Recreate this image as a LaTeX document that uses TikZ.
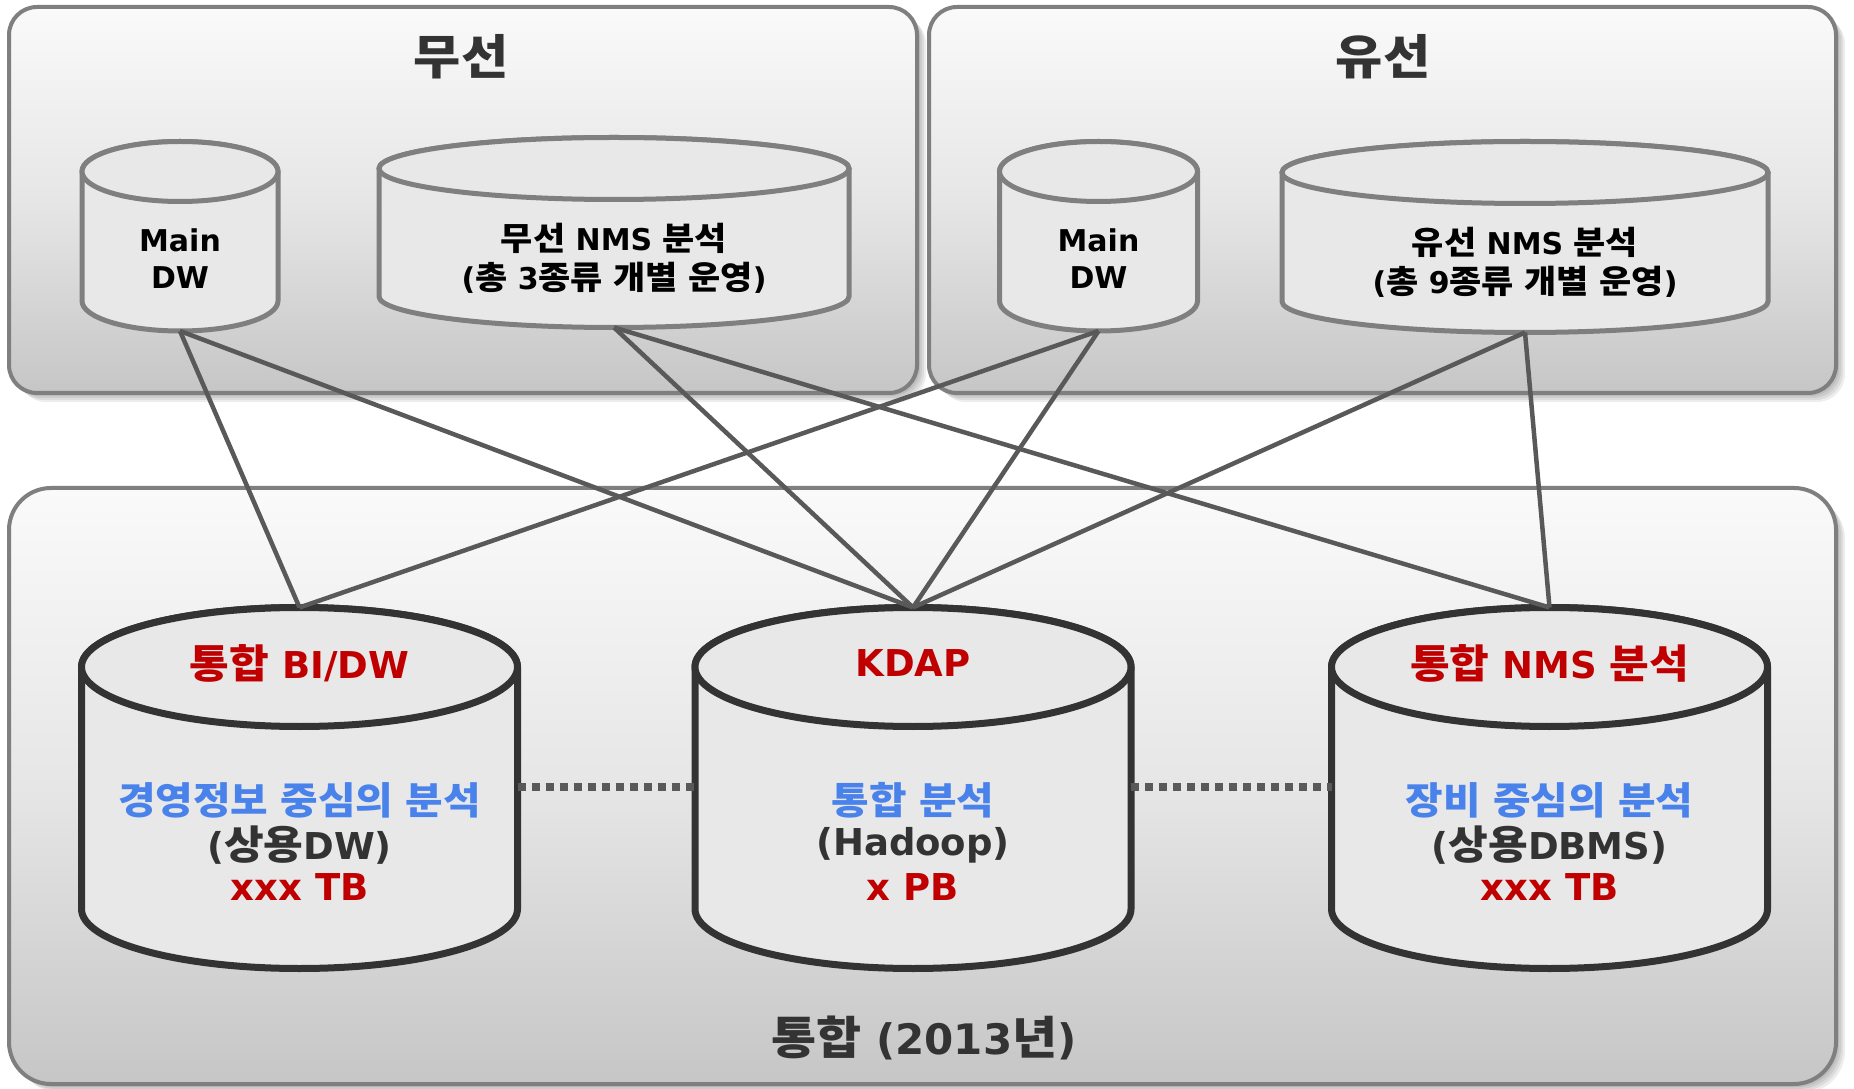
\documentclass[tikz,border=0pt]{standalone}
\usepackage{fontspec}
\setmainfont{DejaVu Sans}
\newfontfamily\kr{Noto Sans CJK KR}[Scale=1.08,FakeStretch=1.08]
\newcommand{\K}[1]{{\kr #1}}
\definecolor{panelborder}{HTML}{7F7F7F}
\definecolor{cylfill}{HTML}{E8E8E8}
\definecolor{bigborder}{HTML}{333333}
\definecolor{linec}{HTML}{595959}
\definecolor{redt}{HTML}{C00000}
\definecolor{bluet}{HTML}{4A82EB}
\definecolor{grayt}{HTML}{333333}
\definecolor{ptop}{HTML}{FAFAFA}
\definecolor{pmid}{HTML}{E6E6E6}
\definecolor{pbot}{HTML}{C6C6C6}
\newcommand{\dbcyl}[7]{%
  \draw[#7] (#2-#5,#3) -- (#2-#5,#4)
    arc[start angle=180,end angle=360,x radius=#5pt,y radius=#6pt]
    -- (#2+#5,#3)
    arc[start angle=0,end angle=180,x radius=#5pt,y radius=#6pt] -- cycle;
  \draw[#7] (#2,#3) ellipse[x radius=#5pt,y radius=#6pt];
  \coordinate (#1-t) at (#2,#3+#6);
  \coordinate (#1-b) at (#2,#4-#6);
  \coordinate (#1-l) at (#2-#5,301);
  \coordinate (#1-r) at (#2+#5,301);
}
\tikzset{
  panel/.style={draw=panelborder, line width=4pt, top color=ptop, bottom color=pbot, middle color=pmid},
  pshadow/.style={fill=black, opacity=0.07},
  smallcyl/.style={draw=panelborder, line width=5pt, fill=cylfill},
  bigcyl/.style={draw=bigborder, line width=7pt, fill=cylfill},
  conn/.style={draw=linec, line width=4.5pt},
  dotc/.style={draw=linec, line width=8pt, dash pattern=on 8pt off 6pt},
  smalltxt/.style={font=\fontsize{30}{36}\selectfont\bfseries, text=black, inner sep=0pt},
  bigtxt/.style={font=\fontsize{37}{44}\selectfont\bfseries, inner sep=0pt},
  bluetxt/.style={font=\fontsize{35}{42}\selectfont\bfseries, text=bluet, inner sep=0pt},
  paneltitle/.style={font=\fontsize{44}{52}\selectfont\bfseries, text=grayt, inner sep=0pt},
}
\begin{document}
\begin{tikzpicture}[x=1pt,y=1pt]
\useasboundingbox (0,0) rectangle (1854,1088);
\fill[white] (0,0) rectangle (1854,1088);
% shadows
\foreach \d in {3,5,7,9}{
  \fill[pshadow, rounded corners=28pt] (9+\d,695-\d) rectangle (917+\d,1081-\d);
  \fill[pshadow, rounded corners=28pt] (929+\d,695-\d) rectangle (1836+\d,1081-\d);
  \fill[pshadow, rounded corners=42pt] (9+\d,4-\d) rectangle (1836+\d,600-\d);
}
% panels
\path[panel, rounded corners=28pt] (9,695) rectangle (917,1081);
\path[panel, rounded corners=28pt] (929,695) rectangle (1836,1081);
\path[panel, rounded corners=42pt] (9,4) rectangle (1836,600);
\node[paneltitle] (t-wl) at (461,1031) {\K{무선}};
\node[paneltitle] (t-wd) at (1383,1031) {\K{유선}};
\node[paneltitle, font=\fontsize{42}{50}\selectfont\bfseries] (t-int) at (924,50) {\K{통합} (2013\K{년})};
% small cylinders
\dbcyl{mdwa}{180}{916.5}{787}{98}{30}{smallcyl}
\dbcyl{wnms}{614}{919.5}{791.5}{235}{31}{smallcyl}
\dbcyl{mdwb}{1098.5}{916.5}{787}{99}{30}{smallcyl}
\dbcyl{ynms}{1525}{915.5}{786.5}{243}{31}{smallcyl}
\node[smalltxt] (mdwa-1) at (180,848) {Main};
\node[smalltxt] (mdwa-2) at (180,810) {DW};
\node[smalltxt] (mdwb-1) at (1098.5,848) {Main};
\node[smalltxt] (mdwb-2) at (1098.5,810) {DW};
\node[smalltxt] (wnms-1) at (614,850) {\K{무선} NMS \K{분석}};
\node[smalltxt] (wnms-2) at (614,810) {(\K{총} 3\K{종류} \K{개별} \K{운영})};
\node[smalltxt] (ynms-1) at (1525,846) {\K{유선} NMS \K{분석}};
\node[smalltxt] (ynms-2) at (1525,806) {(\K{총} 9\K{종류} \K{개별} \K{운영})};
% big cylinders
\dbcyl{bi}{299.5}{421}{179}{218}{59.5}{bigcyl}
\dbcyl{kd}{913}{421}{179}{218}{59.5}{bigcyl}
\dbcyl{nm}{1549.5}{421}{179}{218}{59.5}{bigcyl}
\node[bigtxt, text=redt] (bi-1) at (299.5,425) {\K{통합} BI/DW};
\node[bluetxt] (bi-2) at (299.5,288) {\K{경영정보} \K{중심의} \K{분석}};
\node[bigtxt, text=grayt] (bi-3) at (299.5,243) {(\K{상용}DW)};
\node[bigtxt, text=redt] (bi-4) at (299.5,201) {xxx TB};
\node[bigtxt, text=redt] (kd-1) at (913,425) {KDAP};
\node[bluetxt] (kd-2) at (913,288) {\K{통합} \K{분석}};
\node[bigtxt, text=grayt] (kd-3) at (913,243) {(Hadoop)};
\node[bigtxt, text=redt] (kd-4) at (913,201) {x PB};
\node[bigtxt, text=redt] (nm-1) at (1549.5,425) {\K{통합} NMS \K{분석}};
\node[bluetxt] (nm-2) at (1549.5,288) {\K{장비} \K{중심의} \K{분석}};
\node[bigtxt, text=grayt] (nm-3) at (1549.5,243) {(\K{상용}DBMS)};
\node[bigtxt, text=redt] (nm-4) at (1549.5,201) {xxx TB};
% dotted links
\draw[dotc] (bi-r) -- (kd-l);
\draw[dotc] (kd-r) -- (nm-l);
% connectors
\draw[conn] (mdwa-b) -- (bi-t);
\draw[conn] (mdwa-b) -- (kd-t);
\draw[conn] (wnms-b) -- (kd-t);
\draw[conn] (wnms-b) -- (nm-t);
\draw[conn] (mdwb-b) -- (bi-t);
\draw[conn] (mdwb-b) -- (kd-t);
\draw[conn] (ynms-b) -- (kd-t);
\draw[conn] (ynms-b) -- (nm-t);
\end{tikzpicture}
\end{document}
